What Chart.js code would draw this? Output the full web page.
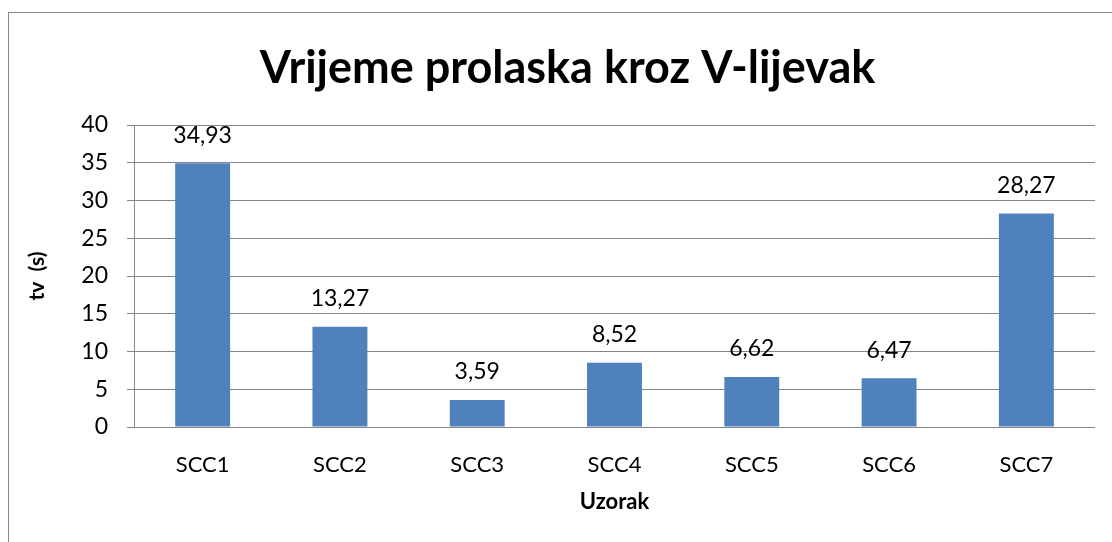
<!DOCTYPE html>
<html>
<head>
<meta charset="utf-8">
<script src="https://cdn.jsdelivr.net/npm/chart.js@4/dist/chart.umd.min.js"></script>
<style>
    html, body { margin: 0; padding: 0; background: #fff; overflow: hidden; }
    #frame {
        position: absolute; left: 8px; top: 12px;
        width: 1200px; height: 600px;
        border: 1px solid #868686;
    }
    #wrap { position: absolute; left: 0; top: 0; width: 1112px; height: 542px; }
</style>
</head>
<body>
<div id="frame"></div>
<div id="wrap"><canvas id="chart"></canvas></div>
<script>
const categories = ['SCC1', 'SCC2', 'SCC3', 'SCC4', 'SCC5', 'SCC6', 'SCC7'];
const times = [34.93, 13.27, 3.59, 8.52, 6.62, 6.47, 28.27];
const yTicks = [0, 5, 10, 15, 20, 25, 30, 35, 40];

const FONT = 'Lato, "Open Sans", sans-serif';

// value labels above the bars, decimal comma like the original
const valueLabels = {
    id: 'valueLabels',
    afterDatasetsDraw(chart) {
        const ctx = chart.ctx;
        const meta = chart.getDatasetMeta(0);
        ctx.save();
        ctx.font = '23px ' + FONT;
        ctx.fillStyle = '#000';
        ctx.textAlign = 'center';
        ctx.textBaseline = 'middle';
        meta.data.forEach((bar, i) => {
            const txt = times[i].toFixed(2).replace('.', ',');
            ctx.fillText(txt, bar.x, bar.y - 28);
        });
        ctx.restore();
    }
};

new Chart(document.getElementById('chart'), {
    type: 'bar',
    data: {
        labels: categories,
        datasets: [{
            data: times,
            backgroundColor: '#4F81BD',
            borderWidth: 0,
            barPercentage: 0.4,
            categoryPercentage: 1
        }]
    },
    options: {
        responsive: true,
        maintainAspectRatio: false,
        animation: false,
        // left padding keeps the chart title centred where the original has it
        layout: { padding: { left: 40, right: 17, top: 0, bottom: 0 } },
        plugins: {
            legend: { display: false },
            tooltip: { enabled: false },
            title: {
                display: true,
                text: 'Vrijeme prolaska kroz V-lijevak',
                color: '#000',
                font: { family: FONT, size: 45, weight: 'bold', lineHeight: 1.2 },
                padding: { top: 41, bottom: 30 }
            }
        },
        scales: {
            x: {
                grid: { display: false, drawTicks: false },
                border: { display: false },
                ticks: { color: '#000', font: { family: FONT, size: 22 }, padding: 25 },
                title: {
                    display: true,
                    text: 'Uzorak',
                    color: '#000',
                    font: { family: FONT, size: 22, weight: 'bold', lineHeight: 1.2 },
                    padding: { top: 0, bottom: 27 }
                },
                afterFit(scale) { scale.height = 115; }
            },
            y: {
                min: 0,
                max: 40,
                afterBuildTicks(scale) { scale.ticks = yTicks.map(v => ({ value: v })); },
                grid: { color: '#868686', lineWidth: 1, tickLength: 7 },
                border: { display: true, color: '#868686', width: 1 },
                ticks: { color: '#000', font: { family: FONT, size: 23 }, padding: 19 },
                title: {
                    display: true,
                    text: 'tv  (s)',
                    color: '#000',
                    font: { family: FONT, size: 21, weight: 'bold', lineHeight: 1.2 },
                    padding: { top: -15, bottom: 0 }
                },
                afterFit(scale) { scale.width = 94; }
            }
        }
    },
    plugins: [valueLabels]
});
</script>
</body>
</html>
